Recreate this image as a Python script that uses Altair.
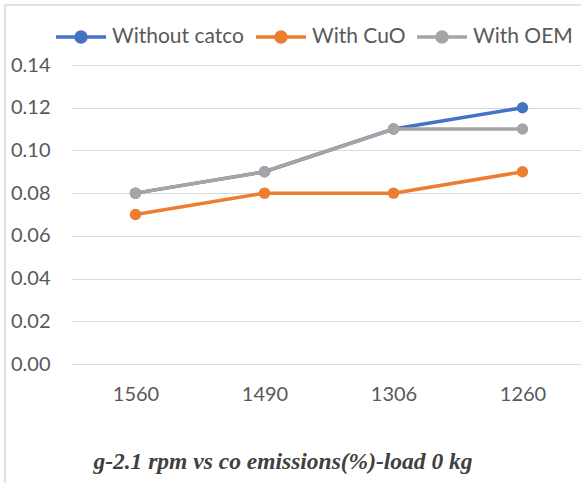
import altair as alt
import pandas as pd

rpm = ["1560", "1490", "1306", "1260"]
without_catco = [0.08, 0.09, 0.11, 0.12]
with_cuo = [0.07, 0.08, 0.08, 0.09]
with_oem = [0.08, 0.09, 0.11, 0.11]
series = ["Without catco", "With CuO", "With OEM"]
colors = ["#4472C4", "#ED7D31", "#A5A5A5"]

rows = []
for name, vals in zip(series, [without_catco, with_cuo, with_oem]):
    for r, v in zip(rpm, vals):
        rows.append({"rpm": r, "value": v, "series": name})
df = pd.DataFrame(rows)

sym = "M-1,0 L1,0 M-0.2,0 A0.2,0.2 0 1,1 0.2,0 A0.2,0.2 0 1,1 -0.2,0 Z"

color = alt.Color(
    "series:N",
    scale=alt.Scale(domain=series, range=colors),
    sort=series,
    legend=alt.Legend(
        title=None, orient="none", direction="horizontal",
        legendX=-17, legendY=-55,
        symbolType=sym, symbolSize=2500, symbolStrokeWidth=3.5,
        labelFont="Lato", labelFontSize=21, labelColor="#595959",
        labelOffset=4, columnPadding=4, symbolOffset=0,
    ),
)

base = alt.Chart(df).encode(
    x=alt.X("rpm:N", sort=rpm, title=None,
            scale=alt.Scale(range=[0, 516]),
            axis=alt.Axis(labelAngle=0, labelFont="Lato", labelFontSize=20,
                          labelColor="#595959", ticks=False, domain=True,
                          domainColor="#D9D9D9", labelPadding=20, grid=False)),
    y=alt.Y("value:Q", title=None,
            scale=alt.Scale(domain=[0, 0.14], nice=False),
            axis=alt.Axis(values=[0, 0.02, 0.04, 0.06, 0.08, 0.10, 0.12, 0.14],
                          format=".2f", labelFont="Lato", labelFontSize=20,
                          labelColor="#595959", ticks=False, domain=False,
                          labelPadding=21, gridColor="#D9D9D9", gridWidth=1)),
    color=color,
    detail="series:N",
)

lines = base.mark_line(strokeWidth=3.5)
points = base.mark_point(filled=True, size=130, opacity=1)

frame = alt.Chart(pd.DataFrame({"a": [0]}))
top_edge = frame.mark_rule(stroke="#D9D9D9", strokeWidth=1.5).encode(
    x=alt.value(-66), x2=alt.value(520), y=alt.value(-60))
left_edge = frame.mark_rule(stroke="#D9D9D9", strokeWidth=1.5).encode(
    x=alt.value(-66), y=alt.value(-60), y2=alt.value(418))

chart = alt.layer(top_edge, left_edge, lines, points).properties(
    width=510, height=299,
    title=alt.TitleParams(
        "g-2.1 rpm vs co emissions(%)-load 0 kg", orient="bottom",
        anchor="middle", frame="bounds", font="Liberation Serif",
        fontSize=23.5, fontStyle="italic", fontWeight="bold", color="#404040",
        offset=-34, dx=-15,
    ),
).configure(
    autosize=alt.AutoSizeParams(type="none"),
    padding={"left": 71, "top": 65, "right": 0, "bottom": 119},
    background="white",
).configure_view(stroke=None)

chart.save("out.html", embed_options={"renderer": "svg", "actions": False})
